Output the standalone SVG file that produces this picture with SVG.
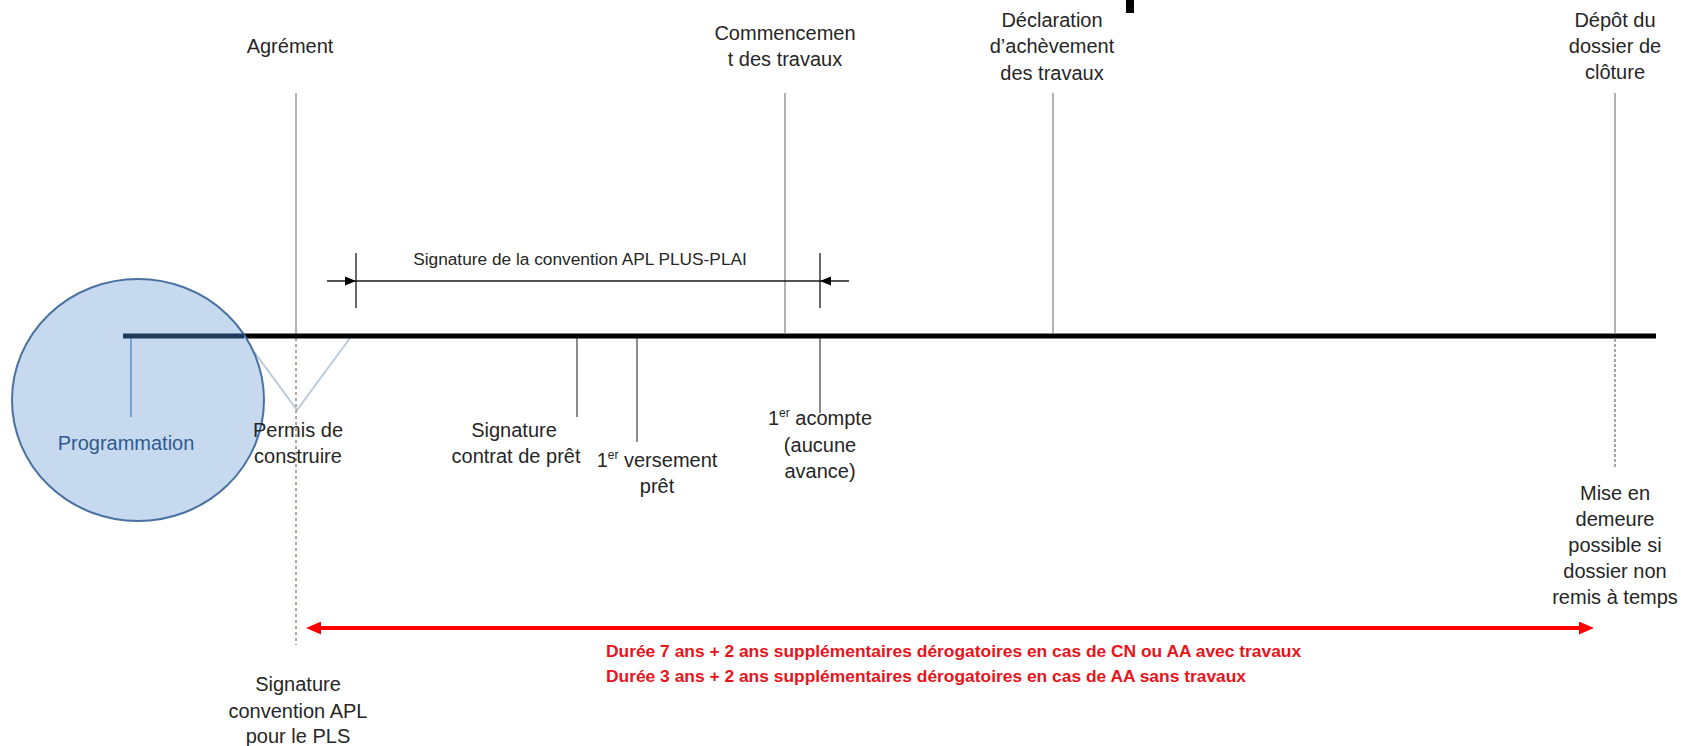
<svg xmlns="http://www.w3.org/2000/svg" width="1681" height="746" viewBox="0 0 1681 746">
<style>
text{font-family:"Liberation Sans",Arial,sans-serif;font-size:20px;fill:#262626;text-anchor:middle}
.small{font-size:17.3px}
.red{font-weight:bold;font-size:17.4px;fill:#e8141c;text-anchor:start}
.prog{fill:#2f5a8f}
.up{stroke:#b3b3b3;stroke-width:2;fill:none}
.down{stroke:#8c8c8c;stroke-width:2;fill:none}
.vee{stroke:#bccbd9;stroke-width:2;fill:none}
.dash{stroke:#9e8a7e;stroke-width:1.5;stroke-dasharray:3 3;fill:none}
.dot{stroke:#a6a6a6;stroke-width:2;stroke-dasharray:3 2;fill:none}
.thin{stroke:#1a1a1a;stroke-width:1.3;fill:none}
.head{fill:#000}
</style>
<defs>
<marker id="redHead" markerUnits="userSpaceOnUse" markerWidth="16" markerHeight="13" refX="5" refY="6.5" orient="auto-start-reverse">
<path d="M0,0 L15,6.5 L0,13 z" fill="#ff0000"/>
</marker>
</defs>
<rect width="1681" height="746" fill="#ffffff"/>
<rect x="1126" y="0" width="8" height="13" fill="#000"/>

<g id="connectors">
<path class="vee" d="M241,334 L297,410 L353,334"/>
<line class="up" x1="296" y1="93" x2="296" y2="334"/>
<line class="dash" x1="296" y1="338" x2="296" y2="645"/>
<line class="up" x1="785" y1="93" x2="785" y2="333"/>
<line class="up" x1="1053" y1="93" x2="1053" y2="333"/>
<line class="up" x1="1615" y1="93" x2="1615" y2="333"/>
<line class="dot" x1="1615" y1="339" x2="1615" y2="467"/>
<line class="down" x1="577" y1="338" x2="577" y2="417"/>
<line class="down" x1="637" y1="338" x2="637" y2="442"/>
<line class="down" x1="820" y1="338" x2="820" y2="413"/>
<line x1="123" y1="336" x2="1656" y2="336" stroke="#000" stroke-width="5"/>
<line class="thin" x1="327" y1="281" x2="849" y2="281"/>
<line class="thin" x1="356" y1="253" x2="356" y2="308"/>
<line class="thin" x1="820" y1="253" x2="820" y2="308"/>
<path class="head" d="M345,276.5 L356,281 L345,285.5 z"/>
<path class="head" d="M831,276.5 L820,281 L831,285.5 z"/>
<line x1="316" y1="628" x2="1584" y2="628" stroke="#ff0000" stroke-width="4" marker-start="url(#redHead)" marker-end="url(#redHead)"/>
</g>

<g id="programmation">
<ellipse cx="138" cy="400" rx="126" ry="121" fill="#c6d9ee" stroke="#4a72a0" stroke-width="2"/>
<line x1="123" y1="336" x2="244" y2="336" stroke="#1f3b5b" stroke-width="5"/>
<line x1="131" y1="338" x2="131" y2="417" stroke="#5b8fc9" stroke-width="1.5"/>
<text class="prog" x="126" y="450">Programmation</text>
</g>

<g id="agrement"><text x="290" y="53">Agrément</text></g>
<g id="commencement"><text x="785" y="40">Commencemen</text><text x="785" y="66">t des travaux</text></g>
<g id="declaration"><text x="1052" y="27">Déclaration</text><text x="1052" y="53">d’achèvement</text><text x="1052" y="80">des travaux</text></g>
<g id="depot"><text x="1615" y="27">Dépôt du</text><text x="1615" y="53">dossier de</text><text x="1615" y="79">clôture</text></g>

<g id="convention-plus-plai"><text class="small" x="580" y="265">Signature de la convention APL PLUS-PLAI</text></g>

<g id="permis"><text x="298" y="437">Permis de</text><text x="298" y="463">construire</text></g>
<g id="contrat-pret"><text x="514" y="437">Signature</text><text x="516" y="463">contrat de prêt</text></g>
<g id="versement"><text x="657" y="467">1<tspan font-size="12" dy="-8">er</tspan><tspan dy="8"> versement</tspan></text><text x="657" y="493">prêt</text></g>
<g id="acompte"><text x="820" y="425">1<tspan font-size="12" dy="-8">er</tspan><tspan dy="8"> acompte</tspan></text><text x="820" y="452">(aucune</text><text x="820" y="478">avance)</text></g>
<g id="convention-pls"><text x="298" y="691">Signature</text><text x="298" y="718">convention APL</text><text x="298" y="743">pour le PLS</text></g>
<g id="mise-en-demeure"><text x="1615" y="500">Mise en</text><text x="1615" y="526">demeure</text><text x="1615" y="552">possible si</text><text x="1615" y="578">dossier non</text><text x="1615" y="604">remis à temps</text></g>

<g id="duree">
<text class="red" x="606" y="657">Durée 7 ans + 2 ans supplémentaires dérogatoires en cas de CN ou AA avec travaux</text>
<text class="red" x="606" y="682">Durée 3 ans + 2 ans supplémentaires dérogatoires en cas de AA sans travaux</text>
</g>
</svg>
